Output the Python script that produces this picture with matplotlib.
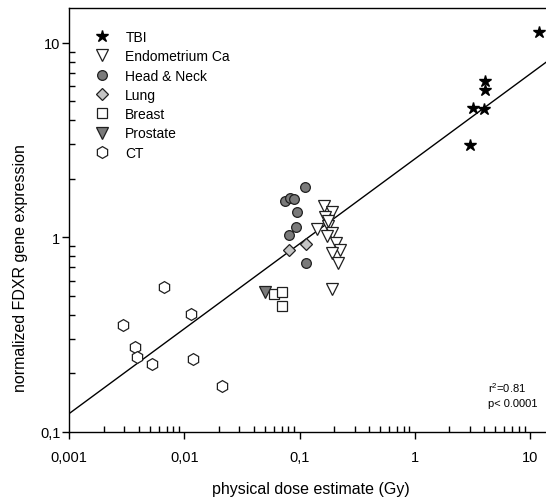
import matplotlib
matplotlib.use('Agg')
import matplotlib.pyplot as plt
from matplotlib.ticker import FixedLocator, LogLocator, NullFormatter

# font setup (Arial-like)
plt.rcParams['font.family'] = ['Liberation Sans', 'DejaVu Sans']
plt.rcParams['mathtext.fontset'] = 'custom'
plt.rcParams['mathtext.rm'] = 'Liberation Sans'
plt.rcParams['mathtext.default'] = 'regular'

# data: (dose Gy, normalized FDXR expression)
tbi_dose = [12.0, 4.06, 4.06, 3.18, 4.0, 3.01]
tbi_expr = [11.3, 6.37, 5.72, 4.61, 4.56, 2.99]

endo_dose = [0.163, 0.192, 0.166, 0.141, 0.177, 0.190, 0.172, 0.206, 0.224, 0.192, 0.214, 0.190, 0.175]
endo_expr = [1.45, 1.35, 1.27, 1.11, 1.14, 1.05, 1.02, 0.93, 0.86, 0.83, 0.74, 0.54, 1.22]

hn_dose = [0.111, 0.0744, 0.0824, 0.0898, 0.0942, 0.0923, 0.0807, 0.113]
hn_expr = [1.82, 1.53, 1.585, 1.57, 1.35, 1.125, 1.03, 0.735]

lung_dose = [0.0813, 0.1135]
lung_expr = [0.863, 0.927]

breast_dose = [0.0603, 0.0707, 0.0707]
breast_expr = [0.512, 0.524, 0.444]

prostate_dose = [0.050]
prostate_expr = [0.524]

ct_dose = [0.00668, 0.00291, 0.01132, 0.00372, 0.00385, 0.00519, 0.0119, 0.0210]
ct_expr = [0.557, 0.354, 0.404, 0.272, 0.242, 0.224, 0.237, 0.172]

# regression line end points (log-log fit)
fit_dose = [0.001, 13.8]
fit_expr = [0.1245, 7.93]

r2_text = '0.81'
p_text = 'p< 0.0001'


def px_x(x):
    return x / 546.0


def px_y(y):
    return 1 - y / 502.0


def plot_chart():
    fig = plt.figure(figsize=(5.46, 5.02), dpi=100)
    ax = fig.add_axes([px_x(69.3), px_y(433), 1 - px_x(69.3), (433 - 9.4) / 502.0])

    ax.set_xscale('log')
    ax.set_yscale('log')
    ax.set_xlim(0.001, 13.8)
    ax.set_ylim(0.1, 15)

    # regression line
    ax.plot(fit_dose, fit_expr, color='black', lw=1.0, zorder=1)

    ec = '#202020'
    ax.plot(tbi_dose, tbi_expr, ls='none', marker='*', ms=9, mfc='black', mec='black', label='TBI', zorder=3)
    ax.plot(endo_dose, endo_expr, ls='none', marker='v', ms=8, mfc='white', mec=ec, mew=0.9,
            label='Endometrium Ca', zorder=3)
    ax.plot(hn_dose, hn_expr, ls='none', marker='o', ms=7, mfc='#7a7a7a', mec=ec, mew=0.9,
            label='Head & Neck', zorder=3)
    ax.plot(lung_dose, lung_expr, ls='none', marker='D', ms=6.5, mfc='#c4c4c4', mec=ec, mew=0.9,
            label='Lung', zorder=3)
    ax.plot(breast_dose, breast_expr, ls='none', marker='s', ms=6.8, mfc='white', mec=ec, mew=0.9,
            label='Breast', zorder=3)
    ax.plot(prostate_dose, prostate_expr, ls='none', marker='v', ms=8, mfc='#7a7a7a', mec=ec, mew=0.9,
            label='Prostate', zorder=3)
    ax.plot(ct_dose, ct_expr, ls='none', marker='h', ms=8.5, mfc='white', mec=ec, mew=0.9,
            label='CT', zorder=3)

    # spines: no right spine visible
    ax.spines['right'].set_visible(False)
    for s in ['left', 'bottom', 'top']:
        ax.spines[s].set_linewidth(1.0)

    # ticks: majors out, minors in
    ax.xaxis.set_major_locator(FixedLocator([0.001, 0.01, 0.1, 1, 10]))
    ax.set_xticklabels(['0,001', '0,01', '0,1', '1', '10'])
    ax.xaxis.set_minor_locator(LogLocator(base=10, subs=range(2, 10), numticks=20))
    ax.xaxis.set_minor_formatter(NullFormatter())
    ax.yaxis.set_major_locator(FixedLocator([0.1, 1, 10]))
    ax.set_yticklabels(['0,1', '1', '10'])
    ax.yaxis.set_minor_locator(LogLocator(base=10, subs=range(2, 10), numticks=20))
    ax.yaxis.set_minor_formatter(NullFormatter())

    ax.tick_params(which='major', direction='out', length=5, width=1.0, labelsize=10.5)
    ax.tick_params(which='minor', direction='in', length=4, width=1.0)
    ax.tick_params(axis='x', which='major', pad=8)
    ax.tick_params(axis='y', which='major', pad=1.5)
    ax.tick_params(top=False, right=False, which='both')

    # legend without frame
    ax.legend(loc='upper left', bbox_to_anchor=(px_x(94.7), px_y(31)), bbox_transform=fig.transFigure,
              frameon=False, fontsize=10, handlelength=1.0, handletextpad=1.2,
              labelspacing=0.38, borderpad=0, borderaxespad=0, numpoints=1)

    # axis labels
    fig.text(px_x(311), px_y(490), 'physical dose estimate (Gy)', ha='center', va='center', fontsize=11.5)
    fig.text(px_x(21), px_y(268), 'normalized FDXR gene expression', ha='center', va='center',
             rotation=90, fontsize=11.5)

    # statistics text
    fig.text(px_x(487.5), px_y(393), 'r$^{2}$=' + r2_text, fontsize=8, ha='left', va='baseline')
    fig.text(px_x(487.5), px_y(407), p_text, fontsize=8, ha='left', va='baseline')

    fig.savefig('out.png', dpi=100)


if __name__ == '__main__':
    plot_chart()
